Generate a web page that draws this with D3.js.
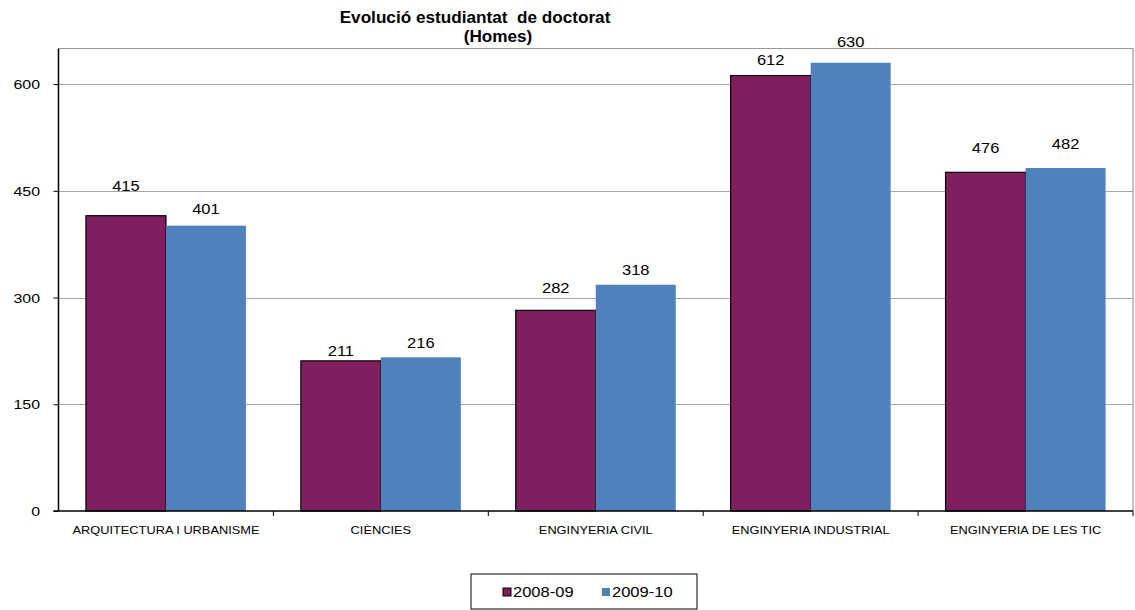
<!DOCTYPE html>
<html lang="ca">
<head>
<meta charset="UTF-8">
<title>Evolució estudiantat de doctorat</title>
<style>
  body { margin: 0; background: #fff; overflow: hidden; }
  text { font-family: "Liberation Sans", Arial, sans-serif; fill: #000; }
</style>
</head>
<body>
<svg id="chart" width="1135" height="610"></svg>
<script src="https://cdn.jsdelivr.net/npm/d3@7"></script>
<script>
const categories = ["ARQUITECTURA I URBANISME", "CIÈNCIES", "ENGINYERIA CIVIL", "ENGINYERIA INDUSTRIAL", "ENGINYERIA DE LES TIC"];
const seriesNames = ["2008-09", "2009-10"];
const values0809 = [415, 211, 282, 612, 476];
const values0910 = [401, 216, 318, 630, 482];
const yTicks = [0, 150, 300, 450, 600];
const colors = ["#7f1f5f", "#4f81bd"];
// the labels were nudged by hand in the original, gap above each bar in px
const labelGap = [[25, 5, 17, 11, 19], [12, 9, 10, 16, 19]];

const SX = 1.18; // the original text is drawn wide
const svg = d3.select("#chart");
const m = { left: 58.5, top: 48.5, right: 1133, bottom: 511 };

function wideText(parent, x, y, str, size, anchor, weight, sx) {
  const t = parent.append("text")
    .attr("transform", `translate(${x},${y}) scale(${sx || SX},1)`)
    .attr("text-anchor", anchor || "middle")
    .style("font-size", size + "px")
    .text(str);
  if (weight) t.style("font-weight", weight);
  return t;
}

const x = d3.scaleBand().domain(categories).range([m.left, m.right]).paddingInner(0).paddingOuter(0);
const barW = 80;
const y = d3.scaleLinear().domain([0, 650]).range([m.bottom, m.top]);

// gridlines
svg.append("g").selectAll("line").data(yTicks.filter(d => d > 0)).join("line")
  .attr("x1", m.left).attr("x2", m.right)
  .attr("y1", d => Math.round(y(d)) + 0.5).attr("y2", d => Math.round(y(d)) + 0.5)
  .attr("stroke", "#a6a6a6").attr("stroke-width", 1);

// plot border top/right
svg.append("path")
  .attr("d", `M${m.left},${m.top}H${m.right}V${m.bottom}`)
  .attr("fill", "none").attr("stroke", "#999").attr("stroke-width", 1.2);

// bars
const rows = categories.map((c, i) => ({ c, i, vals: [values0809[i], values0910[i]] }));
const g = svg.append("g").selectAll("g").data(rows).join("g");
g.selectAll("rect").data(d => d.vals.map((v, k) => ({ c: d.c, v, k }))).join("rect")
  .attr("x", d => x(d.c) + (x.bandwidth() - 2 * barW) / 2 + d.k * barW)
  .attr("y", d => y(d.v))
  .attr("width", barW)
  .attr("height", d => y(0) - y(d.v))
  .attr("fill", d => colors[d.k])
  .attr("stroke", d => d.k === 0 ? "#000" : "none")
  .attr("stroke-width", 1.2);

g.each(function(d) {
  const sel = d3.select(this);
  d.vals.forEach((v, k) => {
    const cx = x(d.c) + (x.bandwidth() - 2 * barW) / 2 + k * barW + barW / 2;
    wideText(sel, cx, y(v) - labelGap[k][d.i], v, 14);
  });
});

// y axis
const yAxis = d3.axisLeft(y).tickValues(yTicks).tickSize(5).tickFormat("");
const ya = svg.append("g").attr("transform", `translate(${m.left},0)`).call(yAxis);
ya.select(".domain").attr("d", `M-0,${m.top}V${m.bottom}`).attr("stroke", "#000").attr("stroke-width", 1.5);
ya.selectAll(".tick line").attr("stroke", "#000");
yTicks.forEach(v => wideText(svg, 40, y(v) + 5, v, 13.5, "end"));

// x axis
const xa = svg.append("g").attr("transform", `translate(0,${m.bottom})`);
xa.append("line").attr("x1", m.left - 5).attr("x2", m.right).attr("y1", 0).attr("y2", 0)
  .attr("stroke", "#000").attr("stroke-width", 1.5);
xa.selectAll("line.tk").data(categories).join("line")
  .attr("class", "tk")
  .attr("x1", d => x(d) + x.bandwidth())
  .attr("x2", d => x(d) + x.bandwidth())
  .attr("y1", 0).attr("y2", 5).attr("stroke", "#000");
categories.forEach(c => wideText(xa, x(c) + x.bandwidth() / 2, 23, c, 10.5, "middle", null, 1.22));

// title
wideText(svg, 475, 23, "Evolució estudiantat  de doctorat", 16.5, "middle", "bold", 1.04).style("white-space", "pre");
wideText(svg, 498, 42, "(Homes)", 16.5, "middle", "bold", 1.04);

// legend
const lg = svg.append("g").attr("transform", "translate(471,574)");
lg.append("rect").attr("width", 226).attr("height", 35).attr("fill", "#fff").attr("stroke", "#000").attr("stroke-width", 1);
const li = lg.selectAll("g").data(seriesNames).join("g")
  .attr("transform", (d, i) => `translate(${32 + i * 99},0)`);
li.append("rect").attr("x", 0).attr("y", 14).attr("width", 8).attr("height", 8)
  .attr("fill", (d, i) => colors[i]).attr("stroke", (d, i) => i === 0 ? "#000" : "none");
li.each(function(d) { wideText(d3.select(this), 10, 23, d, 14, "start"); });
</script>
</body>
</html>
